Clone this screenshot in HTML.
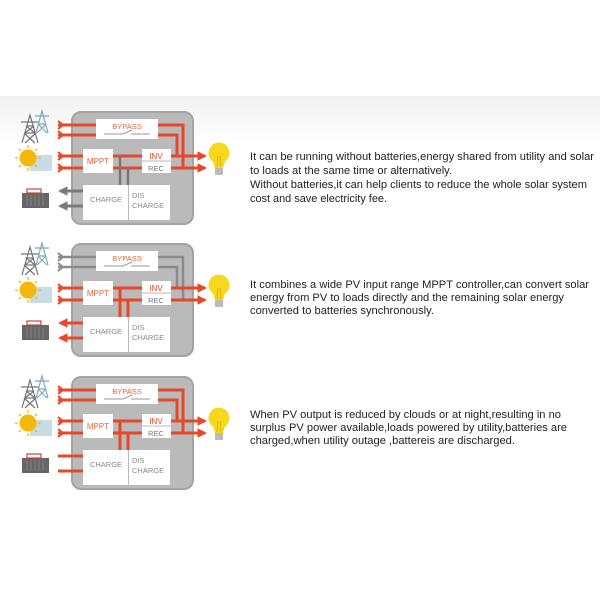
<!DOCTYPE html>
<html><head><meta charset="utf-8"><style>
html,body{margin:0;padding:0;background:#fff;width:600px;height:600px;overflow:hidden}
svg{display:block}
text{font-family:"Liberation Sans",sans-serif}
</style></head><body>
<svg width="600" height="600" viewBox="0 0 600 600" xmlns="http://www.w3.org/2000/svg">
<defs>
<linearGradient id="bg" x1="0" y1="0" x2="0" y2="1">
<stop offset="0" stop-color="#f1f1f1"/><stop offset="1" stop-color="#ffffff"/>
</linearGradient>
<marker id="ar" viewBox="0 0 10 10" refX="8" refY="5" markerWidth="3.2" markerHeight="3.2" orient="auto" markerUnits="strokeWidth"><path d="M0,0 L10,5 L0,10 z" fill="#e8482a"/></marker>
<marker id="ag" viewBox="0 0 10 10" refX="8" refY="5" markerWidth="3.2" markerHeight="3.2" orient="auto" markerUnits="strokeWidth"><path d="M0,0 L10,5 L0,10 z" fill="#7a7a7a"/></marker>
<g id="tower">
<path d="M-8,28 L0,0 L8,28 M-5,18 L5,18 M-4,11 L4,11 M-9,7 L9,7 M-6,18 L5,28 M6,18 L-5,28 M-4,11 L5,18 M4,11 L-5,18" stroke="#777" stroke-width="1.2" fill="none"/>
</g>
<g id="tower2">
<path d="M-6,22 L0,0 L6,22 M-4,13 L4,13 M-7,5 L7,5 M-4,13 L5,22 M4,13 L-5,22" stroke="#7fa9b8" stroke-width="1.2" fill="none"/>
</g>
<g id="icons">
<use href="#tower" x="30" y="-3"/>
<use href="#tower2" x="42" y="-7"/>
<rect x="30" y="37" width="22" height="16" fill="#c9dbe5"/>
<circle cx="28" cy="40" r="8.5" fill="#f4b80c"/>
<g stroke="#f4b80c" stroke-width="1.3"><path d="M28,27v3M28,50v3M15,40h3M38,40h3M19,31l2,2M35,47l2,2M19,49l2,-2M35,33l2,-2"/></g>
<rect x="22" y="75" width="27" height="15" fill="#666"/>
<rect x="27" y="71" width="14" height="4" fill="none" stroke="#c5443a" stroke-width="1.2"/>
<g stroke="#888" stroke-width="0.8"><path d="M27,77v11M31,77v11M35,77v11M39,77v11M43,77v11"/></g>
</g>
<g id="bulb">
<circle cx="0" cy="0" r="10.5" fill="#f6d81e"/>
<path d="M-7,5 L-4,15 L4,15 L7,5 z" fill="#f6d81e"/>
<rect x="-4" y="15" width="8" height="7" fill="#bbb"/>
<path d="M-2,14 L-1,3 M2,14 L1,3" stroke="#d9a300" stroke-width="0.7"/>
</g>
<g id="boxbg">
<rect x="72" y="112" width="121" height="112" rx="9" fill="#bababa" stroke="#a4a4a4" stroke-width="2"/>
<rect x="96" y="119" width="62" height="20" fill="#fff"/>
<text x="127" y="129" font-size="7.5" fill="#e8663a" text-anchor="middle">BYPASS</text>
<path d="M104,134 H123 L132,130 M131,134 H150" stroke="#999" stroke-width="1" fill="none"/>
<rect x="83" y="149" width="30" height="24" fill="#fff"/>
<text x="98" y="164" font-size="8" fill="#e8663a" text-anchor="middle">MPPT</text>
<rect x="142" y="149" width="29" height="24" fill="#fff"/>
<line x1="142" y1="161" x2="171" y2="161" stroke="#bbb" stroke-width="1"/>
<text x="156" y="159" font-size="8" fill="#e8482a" text-anchor="middle">INV</text>
<text x="156" y="171" font-size="7.5" fill="#777" text-anchor="middle">REC</text>
<rect x="83" y="185" width="45" height="35" fill="#fff"/>
<rect x="129" y="185" width="41" height="35" fill="#fff"/>
<text x="106" y="202" font-size="7.5" fill="#888" text-anchor="middle">CHARGE</text>
<text x="132" y="198" font-size="7.5" fill="#888">DIS</text>
<text x="132" y="208" font-size="7.5" fill="#888">CHARGE</text>
</g>
</defs>

<rect x="0" y="96" width="600" height="50" fill="url(#bg)"/>

<!-- Panel 1 -->
<g>
<use href="#icons" x="0" y="118"/>
<use href="#boxbg"/>
<g fill="none" stroke-width="3">
<path d="M58,125 H96 M158,125 H183 V168" stroke="#e8482a"/>
<path d="M58,135 H96 M158,135 H177 V156" stroke="#e8482a"/>
<path d="M58,156 H83 M113,156 H142" stroke="#e8482a"/>
<path d="M58,168 H83 M113,168 H142" stroke="#e8482a"/>
<path d="M171,156 H205" stroke="#e8482a" marker-end="url(#ar)"/>
<path d="M171,168 H205" stroke="#e8482a" marker-end="url(#ar)"/>
<path d="M120,156 V185 M128,168 V185" stroke="#777" stroke-width="2.5"/>
<path d="M83,191 H60" stroke="#7a7a7a" marker-end="url(#ag)"/>
<path d="M83,206 H60" stroke="#7a7a7a" marker-end="url(#ag)"/>
</g>
<path d="M58,121 l5,4 l-5,4 M58,131 l5,4 l-5,4 M58,152 l5,4 l-5,4 M58,164 l5,4 l-5,4" stroke="#e8482a" stroke-width="2" fill="none"/>
<use href="#bulb" x="219" y="153"/>
</g>

<!-- Panel 2 -->
<g transform="translate(0,132)">
<use href="#icons" x="0" y="118"/>
<use href="#boxbg"/>
<g fill="none" stroke-width="2.5">
<path d="M58,125 H96 M158,125 H183 V168" stroke="#8a8a8a"/>
<path d="M58,135 H96 M158,135 H177 V156" stroke="#8a8a8a"/>
</g>
<g fill="none" stroke-width="3">
<path d="M58,156 H83 M113,156 H142" stroke="#e8482a"/>
<path d="M58,168 H83 M113,168 H142" stroke="#e8482a"/>
<path d="M171,156 H205" stroke="#e8482a" marker-end="url(#ar)"/>
<path d="M171,168 H205" stroke="#e8482a" marker-end="url(#ar)"/>
<path d="M120,156 V185 M128,168 V185" stroke="#e8482a"/>
<path d="M83,191 H60" stroke="#e8482a" marker-end="url(#ar)"/>
<path d="M83,206 H60" stroke="#e8482a" marker-end="url(#ar)"/>
</g>
<path d="M58,121 l5,4 l-5,4 M58,131 l5,4 l-5,4" stroke="#8a8a8a" stroke-width="2" fill="none"/>
<path d="M58,152 l5,4 l-5,4 M58,164 l5,4 l-5,4" stroke="#e8482a" stroke-width="2" fill="none"/>
<use href="#bulb" x="219" y="153"/>
</g>

<!-- Panel 3 -->
<g transform="translate(0,265)">
<use href="#icons" x="0" y="118"/>
<use href="#boxbg"/>
<g fill="none" stroke-width="3">
<path d="M58,125 H96 M158,125 H183 V168" stroke="#e8482a"/>
<path d="M58,135 H96 M158,135 H177 V156" stroke="#e8482a"/>
<path d="M58,156 H83 M113,156 H142" stroke="#e8482a"/>
<path d="M58,168 H83 M113,168 H142" stroke="#e8482a"/>
<path d="M171,156 H205" stroke="#e8482a" marker-end="url(#ar)"/>
<path d="M171,168 H205" stroke="#e8482a" marker-end="url(#ar)"/>
<path d="M120,156 V185 M128,168 V185" stroke="#e8482a"/>
<path d="M58,191 H83" stroke="#e8482a"/>
<path d="M58,206 H83" stroke="#e8482a"/>
</g>
<path d="M58,121 l5,4 l-5,4 M58,131 l5,4 l-5,4 M58,152 l5,4 l-5,4 M58,164 l5,4 l-5,4" stroke="#e8482a" stroke-width="2" fill="none"/>
<use href="#bulb" x="219" y="153"/>
</g>

<g font-size="11" fill="#222">
<text x="250" y="160" textLength="344" lengthAdjust="spacingAndGlyphs">It can be running without batteries,energy shared from utility and solar</text>
<text x="250" y="174" textLength="202" lengthAdjust="spacingAndGlyphs">to loads at the same time or alternatively.</text>
<text x="250" y="188" textLength="337" lengthAdjust="spacingAndGlyphs">Without batteries,it can help clients to reduce the whole solar system</text>
<text x="250" y="202" textLength="137" lengthAdjust="spacingAndGlyphs">cost and save electricity fee.</text>

<text x="250" y="288" textLength="339" lengthAdjust="spacingAndGlyphs">It combines a wide PV input range MPPT controller,can convert solar</text>
<text x="250" y="301" textLength="314" lengthAdjust="spacingAndGlyphs">energy from PV to loads directly and the remaining solar energy</text>
<text x="250" y="314" textLength="184" lengthAdjust="spacingAndGlyphs">converted to batteries synchronously.</text>

<text x="250" y="418" textLength="311" lengthAdjust="spacingAndGlyphs">When PV output is reduced by clouds or at night,resulting in no</text>
<text x="250" y="431" textLength="317" lengthAdjust="spacingAndGlyphs">surplus PV power available,loads powered by utility,batteries are</text>
<text x="250" y="444" textLength="265" lengthAdjust="spacingAndGlyphs">charged,when utility outage ,battereis are discharged.</text>
</g>
</svg>
</body></html>
